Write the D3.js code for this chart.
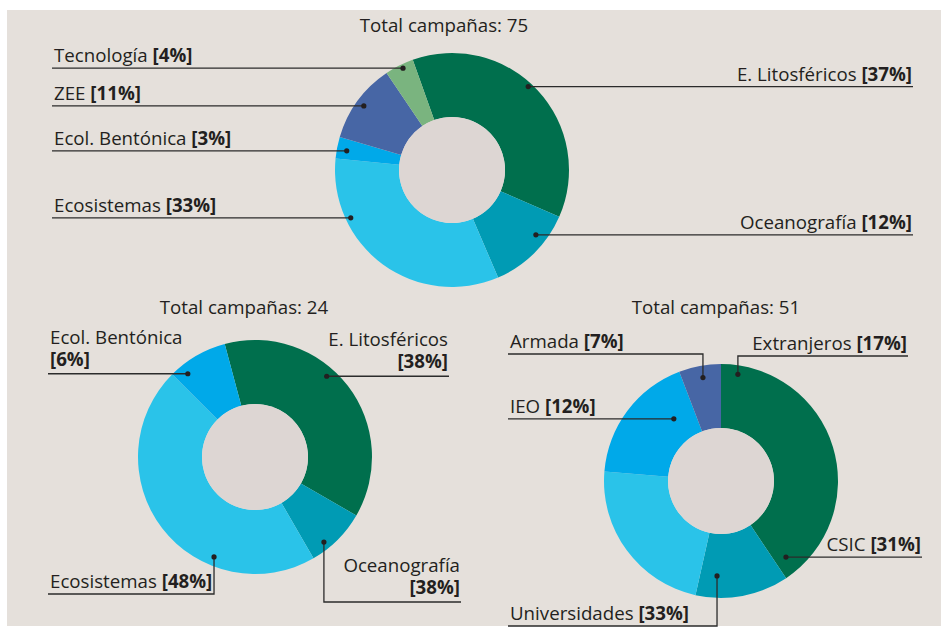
<!DOCTYPE html>
<html>
<head>
<meta charset="utf-8">
<script src="https://cdn.jsdelivr.net/npm/d3@7"></script>
<style>
  html, body { margin: 0; padding: 0; background: #fff; }
  svg { display: block; }
  text { font-family: "Open Sans", "Noto Sans", sans-serif; font-size: 18.7px; fill: #231f20; }
  .pct { font-weight: bold; }
</style>
</head>
<body>
<div id="chart"></div>
<script>
// slice values (clockwise from the first slice)
var areas_top = ['E. Litosféricos', 'Oceanografía', 'Ecosistemas', 'Ecol. Bentónica', 'ZEE', 'Tecnología'];
var values_top = [37, 12, 33, 3, 11, 4];
var total_top = 75;

var areas_left = ['E. Litosféricos', 'Oceanografía', 'Ecosistemas', 'Ecol. Bentónica'];
var values_left = [9, 2, 11, 2];
var total_left = 24;

var groups_right = ['CSIC', 'Universidades', 'Otros', 'IEO', 'Armada'];
var values_right = [40.6, 12.9, 22.8, 17.9, 5.8];
var total_right = 51;

// printed label texts (as they appear in the source)
var labels_top = [
  { name: 'E. Litosféricos', pct: '[37%]' },
  { name: 'Oceanografía', pct: '[12%]' },
  { name: 'Ecosistemas', pct: '[33%]' },
  { name: 'Ecol. Bentónica', pct: '[3%]' },
  { name: 'ZEE', pct: '[11%]' },
  { name: 'Tecnología', pct: '[4%]' }
];
var labels_left = [
  { name: 'E. Litosféricos', pct: '[38%]' },
  { name: 'Oceanografía', pct: '[38%]' },
  { name: 'Ecosistemas', pct: '[48%]' },
  { name: 'Ecol. Bentónica', pct: '[6%]' }
];
var labels_right = [
  { name: 'Extranjeros', pct: '[17%]' },
  { name: 'CSIC', pct: '[31%]' },
  { name: 'Universidades', pct: '[33%]' },
  { name: 'IEO', pct: '[12%]' },
  { name: 'Armada', pct: '[7%]' }
];

var width = 943, height = 629,
    outer_r = 117, inner_r = 53;

var colors = {
  green: '#006f4d', teal: '#009bb4', cyan: '#2ac3e9',
  blue: '#00a9e9', navy: '#4766a5', lime: '#7ab47f'
};

var svg = d3.select('#chart').append('svg')
  .attr('width', width).attr('height', height);

svg.append('rect')
  .attr('x', 7).attr('y', 10)
  .attr('width', 934).attr('height', 616)
  .attr('fill', '#e5e0db');

function rad(deg) { return deg * Math.PI / 180; }

// leader label layout: dot given in polar form (deg clockwise from north, radius)
var layout_top = [
  { a: 42.4, r: 113, side: 'right', x: 912 },
  { a: 127.7, r: 106, side: 'right', x: 912 },
  { a: 244.7, r: 112, side: 'left', x: 54 },
  { a: 280.3, r: 107, side: 'left', x: 54 },
  { a: 306, r: 109, side: 'left', x: 54 },
  { a: 334.3, r: 113, side: 'left', x: 54 }
];
var layout_left = [
  { a: 41.6, r: 108, side: 'right', x: 448, wrap: true },
  { a: 141, r: 109.5, side: 'right', x: 460, wrap: true, elbow: 602 },
  { a: 202.3, r: 108, side: 'left', x: 50, elbow: 594 },
  { a: 321.1, r: 107, side: 'left', x: 50, wrap: true }
];
var layout_right = [
  { a: 9, r: 108, side: 'right', x: 907, elbow: 356 },
  { a: 139.5, r: 100, side: 'right', x: 921 },
  { a: 182.4, r: 95, side: 'left', x: 510, elbow: 626 },
  { a: 322.8, r: 78, side: 'left', x: 510 },
  { a: 350.1, r: 105, side: 'left', x: 510, elbow: 354 }
];

function donut(opts) {
  var g = svg.append('g');

  var pie = d3.pie().sort(null)
    .startAngle(rad(opts.start))
    .endAngle(rad(opts.start) + 2 * Math.PI);

  var arc = d3.arc().innerRadius(inner_r).outerRadius(outer_r);

  var slices = g.append('g')
    .attr('transform', 'translate(' + opts.cx + ',' + opts.cy + ')');

  slices.selectAll('path')
    .data(pie(opts.values))
    .enter().append('path')
    .attr('d', arc)
    .attr('fill', function(d, i) { return opts.colors[i]; });

  slices.append('circle')
    .attr('r', inner_r)
    .attr('fill', '#ddd6d3');

  g.append('text')
    .attr('x', opts.cx + opts.title_dx)
    .attr('y', opts.title_y)
    .attr('text-anchor', 'middle')
    .text('Total campañas: ' + opts.total);

  opts.labels.forEach(function(lab, i) {
    var l = opts.layout[i],
        dx = opts.cx + l.r * Math.sin(rad(l.a)),
        dy = opts.cy - l.r * Math.cos(rad(l.a)),
        line_y = l.elbow || dy,
        right = l.side === 'right',
        end_x = right ? l.x + 1 : l.x - 2;

    var pts = [[dx, dy]];
    if (l.elbow) pts.push([dx, line_y]);
    pts.push([end_x, line_y]);

    g.append('path')
      .attr('d', d3.line()(pts))
      .attr('fill', 'none')
      .attr('stroke', '#2b2b2b')
      .attr('stroke-width', 1.3);

    g.append('circle')
      .attr('cx', dx).attr('cy', dy).attr('r', 2.6)
      .attr('fill', '#231f20');

    var t = g.append('text')
      .attr('x', l.x)
      .attr('y', line_y - 6)
      .attr('text-anchor', right ? 'end' : 'start');

    if (l.wrap) {
      // two lines in one text element: name, then percentage below
      t.attr('y', line_y - 30);
      t.append('tspan').text(lab.name);
      t.append('tspan').attr('class', 'pct')
        .attr('x', l.x).attr('dy', 22)
        .text(lab.pct);
    } else {
      t.append('tspan').text(lab.name + ' ');
      t.append('tspan').attr('class', 'pct').text(lab.pct);
    }
  });
}

donut({
  cx: 452, cy: 170, start: -19.6, title_dx: -8, title_y: 32,
  values: values_top, total: total_top, labels: labels_top, layout: layout_top,
  colors: [colors.green, colors.teal, colors.cyan, colors.blue, colors.navy, colors.lime]
});

donut({
  cx: 255, cy: 457, start: -15, title_dx: -11, title_y: 314,
  values: values_left, total: total_left, labels: labels_left, layout: layout_left,
  colors: [colors.green, colors.teal, colors.cyan, colors.blue]
});

donut({
  cx: 721, cy: 481, start: 0, title_dx: -5, title_y: 314,
  values: values_right, total: total_right, labels: labels_right, layout: layout_right,
  colors: [colors.green, colors.teal, colors.cyan, colors.blue, colors.navy]
});
</script>
</body>
</html>
